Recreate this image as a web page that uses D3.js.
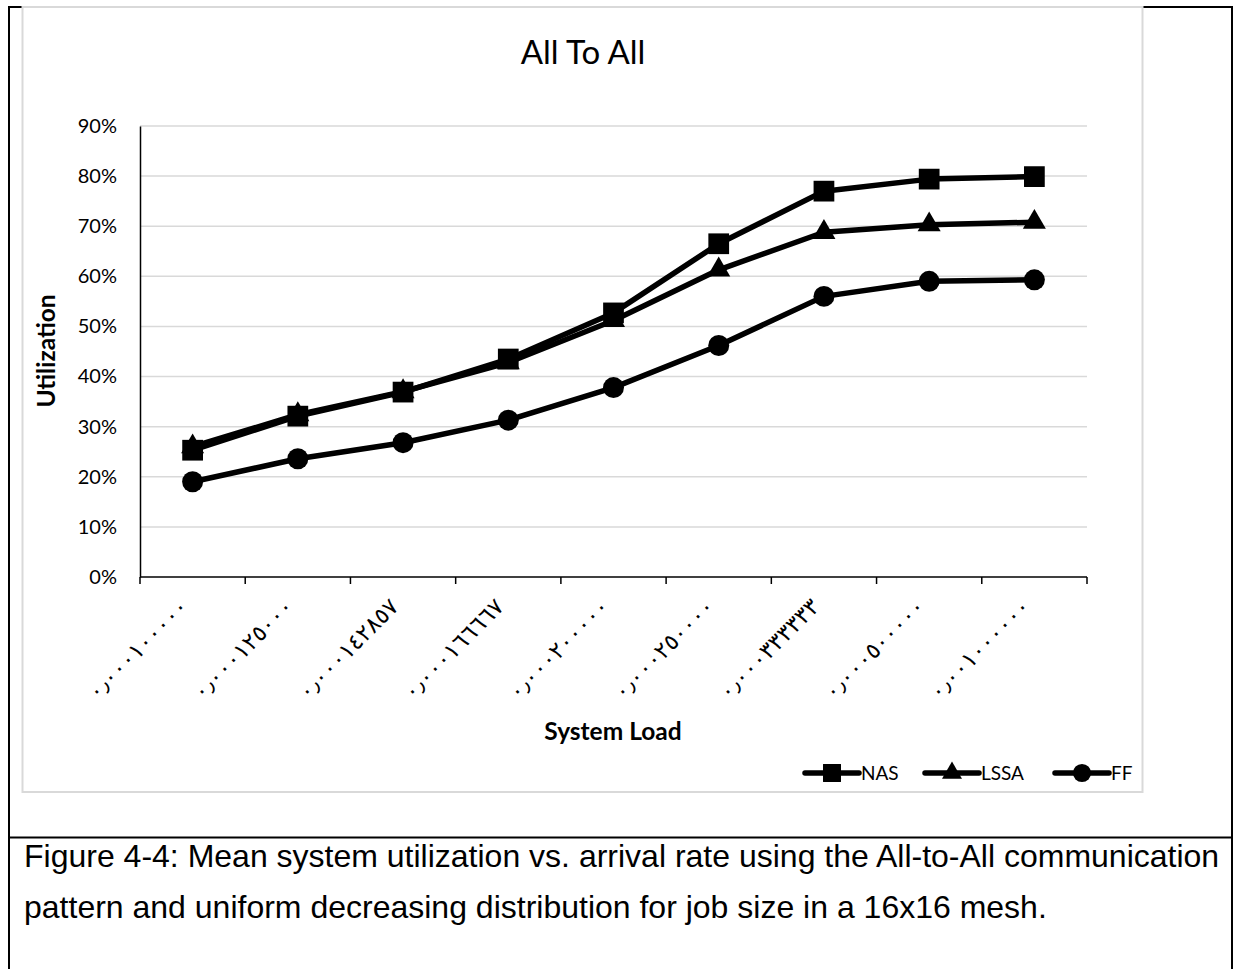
<!DOCTYPE html>
<html>
<head>
<meta charset="utf-8">
<script src="https://cdn.jsdelivr.net/npm/d3@7"></script>
<style>
  html, body { margin: 0; padding: 0; background: #fff; }
  svg { display: block; }
</style>
</head>
<body>
<svg id="fig" width="1237" height="969"></svg>
<script>
// System load (arrival rate) categories, written with Arabic-Indic digits
const loadLabels = [
  "٠٫٠٠٠١٠٠٠٠٠", "٠٫٠٠٠١٢٥٠٠٠", "٠٫٠٠٠١٤٢٨٥٧", "٠٫٠٠٠١٦٦٦٦٧", "٠٫٠٠٠٢٠٠٠٠٠",
  "٠٫٠٠٠٢٥٠٠٠٠", "٠٫٠٠٠٣٣٣٣٣٣", "٠٫٠٠٠٥٠٠٠٠٠", "٠٫٠٠١٠٠٠٠٠٠"
];
// Mean utilization per allocation strategy
const nasValues  = [0.253, 0.321, 0.369, 0.435, 0.527, 0.665, 0.770, 0.794, 0.799];
const lssaValues = [0.260, 0.324, 0.370, 0.428, 0.512, 0.613, 0.688, 0.703, 0.708];
const ffValues   = [0.190, 0.236, 0.268, 0.313, 0.378, 0.462, 0.560, 0.590, 0.593];
const seriesNames = ["NAS", "LSSA", "FF"];
const yTicks = [0, 0.1, 0.2, 0.3, 0.4, 0.5, 0.6, 0.7, 0.8, 0.9];

const series = [
  { name: seriesNames[0], values: nasValues,  symbol: d3.symbolSquare,   size: 430 },
  { name: seriesNames[1], values: lssaValues, symbol: d3.symbolTriangle, size: 230 },
  { name: seriesNames[2], values: ffValues,   symbol: d3.symbolCircle,   size: 346 }
];

const svg = d3.select("#fig");
const chartFont = "Lato, 'Open Sans', sans-serif";

// Table frame around the figure and its caption
svg.append("rect").attr("x", 9).attr("y", 7).attr("width", 1223).attr("height", 975)
  .attr("fill", "none").attr("stroke", "#000").attr("stroke-width", 2);
svg.append("line").attr("x1", 9).attr("x2", 1232).attr("y1", 837.5).attr("y2", 837.5)
  .attr("stroke", "#000").attr("stroke-width", 2);

// Chart area, laid over the top edge of the frame
svg.append("rect").attr("x", 22.5).attr("y", 7).attr("width", 1120).attr("height", 785)
  .attr("fill", "#fff").attr("stroke", "#d9d9d9").attr("stroke-width", 2);

const plot = { left: 140, right: 1087, top: 126, bottom: 577 };

const x = d3.scaleBand().domain(loadLabels).range([plot.left, plot.right]);
const y = d3.scaleLinear().domain([0, 0.9]).range([plot.bottom, plot.top]);

// Horizontal gridlines
svg.append("g").selectAll("line").data(yTicks.filter(t => t > 0)).join("line")
  .attr("x1", plot.left).attr("x2", plot.right)
  .attr("y1", d => y(d)).attr("y2", d => y(d))
  .attr("stroke", "#d9d9d9").attr("stroke-width", 1.5);

// Y axis
const yAxis = svg.append("g").attr("transform", `translate(${plot.left},0)`)
  .call(d3.axisLeft(y).tickValues(yTicks).tickFormat(d3.format(".0%")).tickSize(0).tickPadding(23));
yAxis.select(".domain").attr("stroke", "#000").attr("stroke-width", 1.5);
yAxis.selectAll("text").attr("font-family", chartFont).attr("font-size", 20).attr("fill", "#000");

// X axis with ticks between categories
const xAxisG = svg.append("g").attr("transform", `translate(0,${plot.bottom})`);
xAxisG.append("line").attr("x1", plot.left).attr("x2", plot.right)
  .attr("stroke", "#000").attr("stroke-width", 1.5);
const tickPos = loadLabels.map(l => x(l)).concat([x(loadLabels[loadLabels.length - 1]) + x.bandwidth()]);
xAxisG.selectAll("line.tick").data(tickPos).join("line").attr("class", "tick")
  .attr("x1", d => d).attr("x2", d => d).attr("y1", 0).attr("y2", 7)
  .attr("stroke", "#000").attr("stroke-width", 1.5);
xAxisG.selectAll("text").data(loadLabels).join("text")
  .attr("transform", d => `translate(${x(d) + x.bandwidth() / 2 - 3},${31}) rotate(-45)`)
  .attr("text-anchor", "end")
  .attr("font-family", "'DejaVu Sans', sans-serif").attr("font-size", 23)
  .attr("fill", "#000")
  .text(d => d);

// Title and axis titles
svg.append("text").attr("x", 583).attr("y", 64).attr("text-anchor", "middle")
  .attr("font-family", chartFont).attr("font-size", 33).attr("fill", "#000").text("All To All");
svg.append("text").attr("transform", "translate(55,351) rotate(-90)").attr("text-anchor", "middle")
  .attr("font-family", chartFont).attr("font-weight", "bold").attr("font-size", 24.5)
  .attr("fill", "#000").text("Utilization");
svg.append("text").attr("x", 613).attr("y", 740).attr("text-anchor", "middle")
  .attr("font-family", chartFont).attr("font-weight", "bold").attr("font-size", 24.5)
  .attr("fill", "#000").text("System Load");

// Series lines and markers
const line = d3.line().x((d, i) => x(loadLabels[i]) + x.bandwidth() / 2).y(d => y(d));
const seriesG = svg.append("g").selectAll("g").data(series).join("g");
seriesG.append("path").attr("d", d => line(d.values))
  .attr("fill", "none").attr("stroke", "#000").attr("stroke-width", 5.5).attr("stroke-linejoin", "round");
seriesG.each(function (s) {
  d3.select(this).selectAll("path.marker").data(s.values).join("path").attr("class", "marker")
    .attr("d", d3.symbol().type(s.symbol).size(s.size))
    .attr("transform", (d, i) => `translate(${x(loadLabels[i]) + x.bandwidth() / 2},${y(d)})`)
    .attr("fill", "#000");
});

// Legend
const legendX = [803, 923, 1053];
const legend = svg.append("g").selectAll("g").data(series).join("g")
  .attr("transform", (d, i) => `translate(${legendX[i]},773)`);
legend.append("line").attr("x1", 2).attr("x2", 56).attr("stroke", "#000")
  .attr("stroke-width", 5.5).attr("stroke-linecap", "round");
legend.append("path").attr("d", d => d3.symbol().type(d.symbol).size(d.size * 0.75)())
  .attr("transform", "translate(29,0)").attr("fill", "#000");
legend.append("text").attr("x", 58).attr("y", 7).attr("font-family", chartFont)
  .attr("font-size", 19).attr("fill", "#000").text(d => d.name);

// Caption
const caption = [
  "Figure 4-4: Mean system utilization vs. arrival rate using the All-to-All communication",
  "pattern and uniform decreasing distribution for job size in a 16x16 mesh."
];
svg.append("g").selectAll("text").data(caption).join("text")
  .attr("x", 24).attr("y", (d, i) => 867 + i * 51)
  .attr("font-family", "'Liberation Sans', Arial, sans-serif").attr("font-size", 32)
  .attr("fill", "#000").text(d => d);
</script>
</body>
</html>
